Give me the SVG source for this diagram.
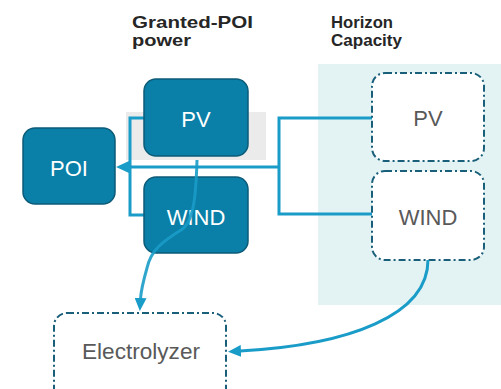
<svg xmlns="http://www.w3.org/2000/svg" width="501" height="389" viewBox="0 0 501 389">
<style>
.title{font-family:"Liberation Sans",Arial,sans-serif;font-weight:bold;font-size:17px;fill:#262626}
.solid rect{fill:#0a7fa8;stroke:#0c5b78;stroke-width:1.5}
.solid text{font-family:"Liberation Sans",Arial,sans-serif;font-size:22px;fill:#ffffff;text-anchor:middle}
.dash rect{fill:#ffffff;stroke:#1a5f7a;stroke-width:2;stroke-dasharray:7 3 2 3}
.dash text{font-family:"Liberation Sans",Arial,sans-serif;font-size:22px;fill:#595959;text-anchor:middle}
.conn path{fill:none;stroke:#1a9cc8;stroke-width:3}
</style>
<defs>
<marker id="arr" viewBox="0 0 13 12" refX="1" refY="6" markerWidth="13" markerHeight="12" markerUnits="userSpaceOnUse" orient="auto">
<path d="M0,0 L13,6 L0,12 z" fill="#1a9cc8"/>
</marker>
</defs>
<rect x="0" y="0" width="501" height="389" fill="#ffffff"/>
<rect x="318" y="64" width="183" height="241" fill="#e3f3f4"/>
<rect x="126" y="112" width="140" height="48" fill="#ebebeb"/>
<text class="title" x="132" y="28" textLength="121" lengthAdjust="spacingAndGlyphs">Granted-POI</text>
<text class="title" x="132" y="46" textLength="59" lengthAdjust="spacingAndGlyphs">power</text>
<text class="title" x="331" y="28" textLength="62" lengthAdjust="spacingAndGlyphs">Horizon</text>
<text class="title" x="331" y="46" textLength="71" lengthAdjust="spacingAndGlyphs">Capacity</text>
<g class="conn" id="connectors-back">
<path d="M144,118 H130 V215 H144"/>
<path d="M372,118 H279 V214 H372"/>
<path d="M279,167 H128" marker-end="url(#arr)"/>
</g>
<g id="poi" class="solid"><rect x="23" y="128" width="92" height="76" rx="12"/><text x="69" y="176">POI</text></g>
<g id="pv-granted" class="solid"><rect x="144" y="79" width="104" height="77" rx="12"/><text x="196" y="127">PV</text></g>
<g id="wind-granted" class="solid"><rect x="144" y="177" width="104" height="76" rx="12"/><text x="196" y="225">WIND</text></g>
<g id="pv-horizon" class="dash"><rect x="372" y="73" width="112" height="88" rx="13"/><text x="428" y="126">PV</text></g>
<g id="wind-horizon" class="dash"><rect x="372" y="171" width="112" height="89" rx="13"/><text x="428" y="225">WIND</text></g>
<g id="electrolyzer" class="dash"><rect x="54" y="313" width="172" height="100" rx="13"/><text x="141" y="359" textLength="118" lengthAdjust="spacingAndGlyphs">Electrolyzer</text></g>
<g class="conn" id="connectors">
<path d="M197,160 C196,195 194,222 181,230 C162,242 151,250 147,268 C143,282 141,290 140.5,299" marker-end="url(#arr)" stroke-opacity="0.9"/>
<path d="M428,260 C428,315 350,345 240,351" marker-end="url(#arr)"/>
</g>
</svg>
